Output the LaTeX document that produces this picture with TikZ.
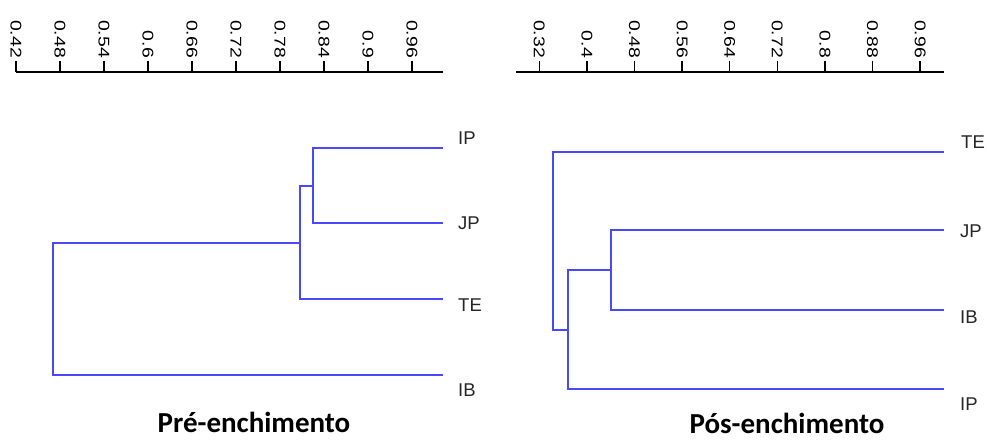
\documentclass[tikz,border=0pt]{standalone}
\usepackage{fontspec}
\setmainfont{Liberation Sans}
\newfontfamily\titlefont{Carlito}
\definecolor{dendro}{RGB}{72,72,255}
\begin{document}
\begin{tikzpicture}[x=1pt,y=-1pt,
  branch/.style={draw=dendro, line width=2pt},
  axisline/.style={draw=black, line width=1.4pt},
  ticklabel/.style={rotate=-90, anchor=east, inner sep=0pt, font=\fontsize{15.5}{15.5}\selectfont},
  leaf/.style={anchor=base west, inner sep=0pt, font=\fontsize{18.5}{18.5}\selectfont, text=black!85},
  title/.style={anchor=base, inner sep=0pt, font=\titlefont\bfseries\fontsize{29}{30}\selectfont}]
\useasboundingbox (0,0) rectangle (987,441);

% ---------- left axis ----------
\coordinate (axL0) at (16,72);
\coordinate (axL1) at (443,72);
\draw[axisline] (axL0) -- (axL1);
\foreach \v/\n in {0.42/a,0.48/b,0.54/c,0.6/d,0.66/e,0.72/f,0.78/g,0.84/h,0.9/i,0.96/j}{
  \pgfmathsetmacro\xx{16+(\v-0.42)*733.3}
  \draw[axisline] (\xx,72) -- (\xx,61);
  \node[ticklabel] (tl\n) at (\xx,58) {\scalebox{1.25}[1]{\v}};
}

% ---------- right axis ----------
\coordinate (axR0) at (516,72);
\coordinate (axR1) at (944,72);
\draw[axisline] (axR0) -- (axR1);
\foreach \v/\n in {0.32/a,0.4/b,0.48/c,0.56/d,0.64/e,0.72/f,0.8/g,0.88/h,0.96/i}{
  \pgfmathsetmacro\xx{539.3+(\v-0.32)*595}
  \draw[axisline] (\xx,72) -- (\xx,61);
  \node[ticklabel] (tr\n) at (\xx,58) {\scalebox{1.25}[1]{\v}};
}

% ---------- left dendrogram ----------
\coordinate (ipL) at (443,148);
\coordinate (jpL) at (443,223);
\coordinate (teL) at (443,299);
\coordinate (ibL) at (443,375);
\coordinate (n1) at (313,185.5);
\coordinate (n2) at (300,242.5);
\coordinate (n3) at (53,308);
\draw[branch] (ipL) -| (n1) |- (jpL);
\draw[branch] (n1) -| (n2) |- (teL);
\draw[branch] (n2) -| (n3) |- (ibL);

\node[leaf] (labIPL) at (458,144) {IP};
\node[leaf] (labJPL) at (458,229) {JP};
\node[leaf] (labTEL) at (458,311) {TE};
\node[leaf] (labIBL) at (458,396) {IB};

\node[title] (titleL) at (254,432) {Pré-enchimento};

% ---------- right dendrogram ----------
\coordinate (teR) at (944,151.5);
\coordinate (jpR) at (944,230);
\coordinate (ibR) at (944,310);
\coordinate (ipR) at (944,388.5);
\coordinate (m1) at (610.7,270);
\coordinate (m2) at (567.7,330);
\coordinate (m3) at (553.3,240);
\draw[branch] (jpR) -| (m1) |- (ibR);
\draw[branch] (m1) -| (m2) |- (ipR);
\draw[branch] (teR) -| (m3) |- (m2);

\node[leaf] (labTER) at (961,148.5) {TE};
\node[leaf] (labJPR) at (960,237) {JP};
\node[leaf] (labIBR) at (960,323.5) {IB};
\node[leaf] (labIPR) at (960,410) {IP};

\node[title] (titleR) at (787,433) {Pós-enchimento};
\end{tikzpicture}
\end{document}
